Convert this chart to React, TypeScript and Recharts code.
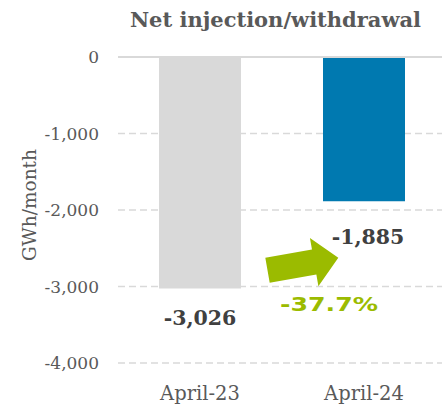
import { BarChart, Bar, XAxis, YAxis, CartesianGrid, ReferenceLine, Cell, LabelList } from 'recharts'

const categories = ['April-23', 'April-24']
const values = [-3026, -1885]
const barColors = ['#D9D9D9', '#0079B0']
const yTicks = [0, -1000, -2000, -3000, -4000]
const changeLabel = '-37.7%'

const C = {
  title: '#595959',
  tick: '#595959',
  value: '#404040',
  grid: '#D9D9D9',
  green: '#9BBB00',
}
const SERIF = '"DejaVu Serif", serif'

const data = categories.map((c, i) => ({ name: c, value: values[i] }))

const fmt = (v: number) => (v === 0 ? '0' : v.toLocaleString('en-US'))

// offsets of the value labels under each bar
const labelShift = [{ dx: 0, dy: 37 }, { dx: 4, dy: 43 }]

function ValueLabel(props: any) {
  const { x, y, width, height, value, index } = props
  const bottom = Math.max(y, y + height)
  const cx = x + width / 2
  const s = labelShift[index] || { dx: 0, dy: 37 }
  const out: any[] = [
    <text
      key="v"
      x={cx + s.dx}
      y={bottom + s.dy}
      textAnchor="middle"
      fill={C.value}
      fontFamily={SERIF}
      fontWeight="bold"
      fontSize={20.5}
    >
      {fmt(value)}
    </text>,
  ]
  if (index === 1) {
    // arrow from the first bar toward the second one
    const T = { x: x - 55.5, y: bottom + 69 }
    const P = { x: x + 15.3, y: bottom + 56.6 }
    const dx = P.x - T.x
    const dy = P.y - T.y
    const len = Math.hypot(dx, dy)
    const u = { x: dx / len, y: dy / len }
    const n = { x: -u.y, y: u.x }
    const hw = 12.7
    const hh = 24.5
    const hl = 24.5
    const B = { x: T.x + u.x * (len - hl), y: T.y + u.y * (len - hl) }
    const pts = [
      [T.x - n.x * hw, T.y - n.y * hw],
      [B.x - n.x * hw, B.y - n.y * hw],
      [B.x - n.x * hh, B.y - n.y * hh],
      [P.x, P.y],
      [B.x + n.x * hh, B.y + n.y * hh],
      [B.x + n.x * hw, B.y + n.y * hw],
      [T.x + n.x * hw, T.y + n.y * hw],
    ]
    out.push(
      <polygon key="a" points={pts.map(p => p.join(',')).join(' ')} fill={C.green} />
    )
    out.push(
      <text
        key="p"
        x={x + 6}
        y={bottom + 110}
        textAnchor="middle"
        fill={C.green}
        fontFamily='"DejaVu Sans", sans-serif'
        fontWeight="bold"
        fontSize={19}
        textLength={98}
        lengthAdjust="spacingAndGlyphs"
      >
        {changeLabel}
      </text>
    )
  }
  return <g>{out}</g>
}

export default function App() {
  return (
    <div style={{ position: 'absolute', left: 0, top: 0, width: 442, height: 407, overflow: 'hidden', background: '#fff' }}>
      <div
        style={{
          position: 'absolute',
          left: 0,
          top: 9,
          width: 551,
          textAlign: 'center',
          fontFamily: SERIF,
          fontWeight: 'bold',
          fontSize: 21,
          lineHeight: '21px',
          color: C.title,
          whiteSpace: 'nowrap',
        }}
      >
        Net injection/withdrawal
      </div>
      <div
        style={{
          position: 'absolute',
          left: 29,
          top: 205,
          transform: 'translate(-50%, -50%) rotate(-90deg)',
          fontFamily: SERIF,
          fontSize: 18.5,
          color: C.tick,
          whiteSpace: 'nowrap',
        }}
      >
        GWh/month
      </div>
      <BarChart
        width={446}
        height={407}
        data={data}
        margin={{ top: 57, right: 0, bottom: 0, left: 0 }}
        barCategoryGap="25%"
      >
        <CartesianGrid vertical={false} stroke={C.grid} strokeDasharray="7 4" strokeWidth={1.5} />
        <XAxis
          dataKey="name"
          axisLine={false}
          tickLine={false}
          height={44}
          tickMargin={17}
          tick={{ fill: C.tick, fontFamily: SERIF, fontSize: 19.5 }}
        />
        <YAxis
          domain={[-4000, 0]}
          ticks={yTicks}
          width={118}
          axisLine={false}
          tickLine={false}
          tickMargin={13}
          tickFormatter={fmt}
          tick={{ fill: C.tick, fontFamily: SERIF, fontSize: 17 }}
        />
        <ReferenceLine y={0} stroke={C.grid} strokeWidth={2} />
        <Bar dataKey="value" isAnimationActive={false}>
          {data.map((_, i) => (
            <Cell key={i} fill={barColors[i]} />
          ))}
          <LabelList dataKey="value" content={<ValueLabel />} />
        </Bar>
      </BarChart>
    </div>
  )
}
